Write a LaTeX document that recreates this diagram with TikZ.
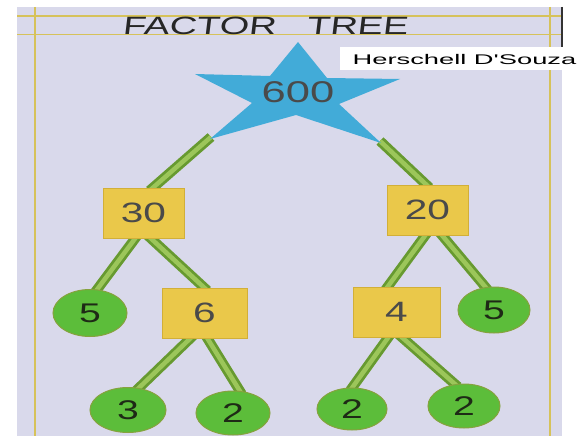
\documentclass[tikz,border=0pt]{standalone}
\usepackage{fontspec}
\usetikzlibrary{shapes.geometric,calc,backgrounds}
\newfontfamily\titlefont[FakeStretch=1.52,FakeSlant=0.12]{Liberation Sans}
\newfontfamily\credfont[FakeStretch=1.95]{Liberation Sans}
\newfontfamily\numfont[FakeStretch=1.45]{Liberation Sans}
\definecolor{paper}{HTML}{D9D9EB}
\definecolor{ruleyellow}{HTML}{D6C25A}
\definecolor{starblue}{HTML}{42ABD8}
\definecolor{boxyellow}{HTML}{EAC84A}
\definecolor{boxedge}{HTML}{D2AF38}
\definecolor{leafgreen}{HTML}{5CBD3A}
\definecolor{leafedge}{HTML}{86A23E}
\definecolor{stripedge}{HTML}{679A30}
\definecolor{stripfill}{HTML}{9CC65A}
\definecolor{numgray}{HTML}{4A4A4A}
\definecolor{numdark}{HTML}{1E2A16}
\pgfdeclarelayer{strips}
\pgfsetlayers{background,strips,main}
\begin{document}
\begin{tikzpicture}[x=1pt,y=-1pt,
  rulel/.style={draw=ruleyellow,line width=1.1pt},
  box/.style={rectangle,fill=boxyellow,draw=boxedge,line width=0.6pt,inner sep=0pt,
    font=\numfont\fontsize{28}{28}\selectfont,text=numgray},
  leaf/.style={ellipse,fill=leafgreen,draw=leafedge,line width=1pt,inner sep=0pt,
    font=\numfont\fontsize{27}{27}\selectfont,text=numdark},
  strip/.style={draw=stripedge,double=stripfill,line width=2.8pt,double distance=4.5pt}]
\useasboundingbox (0,0) rectangle (579,436);
\begin{pgfonlayer}{background}
\fill[white] (0,0) rectangle (579,436);
\fill[paper] (17,7) rectangle (562,436);
\draw[rulel] (17,16) -- (562,16);
\draw[rulel] (17,34.5) -- (562,34.5);
\draw[rulel] (35,7) -- (35,436);
\draw[rulel] (550,7) -- (550,436);
\draw[black!80,line width=1.5pt] (562,7) -- (562,47);
\end{pgfonlayer}
% title and credit
\node[font=\titlefont\fontsize{25}{25}\selectfont,text=black!85] (title) at (265,26) {FACTOR\hspace{20pt} TREE};
\node[fill=white,minimum width=239,minimum height=23,inner sep=0pt,anchor=north west] (credbox) at (340,47) {};
\node[font=\credfont\fontsize{14}{14}\selectfont,text=black] (cred) at (464.5,59.5) {Herschell D\symbol{39}Souza};
% star
\fill[starblue] (298,42) coordinate (st) -- (270,76) -- (195,74) coordinate (sl) -- (252,103)
  -- (210,139) coordinate (sbl) -- (296,115) -- (381,143) coordinate (sbr) -- (339,104)
  -- (400,79) coordinate (sr) -- (327,78) -- cycle;
\node[font=\numfont\fontsize{30}{30}\selectfont,text=numgray] (root) at (298,92) {600};
% boxes
\node[box,minimum width=81,minimum height=50] (b30) at (143.5,213) {30};
\node[box,minimum width=81,minimum height=50] (b20) at (427.5,210) {20};
\node[box,minimum width=85,minimum height=50] (b6) at (204.5,313) {6};
\node[box,minimum width=87,minimum height=50] (b4) at (396.5,312) {4};
% leaves
\node[leaf,minimum width=74,minimum height=47] (c5L) at (90,313) {5};
\node[leaf,minimum width=72,minimum height=46] (c5R) at (494,310) {5};
\node[leaf,minimum width=76,minimum height=45] (c3) at (128,410) {3};
\node[leaf,minimum width=74,minimum height=44] (c2a) at (233,413) {2};
\node[leaf,minimum width=70,minimum height=42] (c2b) at (352,409) {2};
\node[leaf,minimum width=72,minimum height=44] (c2c) at (464,406) {2};
% strips
\begin{pgfonlayer}{strips}
\draw[strip] ($(sbl)+(1,-2)$) -- ($(b30.north)+(6,3)$);
\draw[strip] ($(sbr)+(-1,-2)$) -- ($(b20.north)+(2,3)$);
\draw[strip] ($(b30.south)+(-6,-3)$) -- ($(c5L.78)+(0,3)$);
\draw[strip] ($(b30.south)+(4,-3)$) -- ($(b6.north)+(3,3)$);
\draw[strip] ($(b20.south)+(0,-3)$) -- ($(b4.north)+(-11,3)$);
\draw[strip] ($(b20.south)+(12,-3)$) -- ($(c5R.105)+(0,3)$);
\draw[strip] ($(b6.south)+(-11,-3)$) -- ($(c3.70)+(0,3)$);
\draw[strip] ($(b6.south)+(1,-3)$) -- ($(c2a.68)+(0,3)$);
\draw[strip] ($(b4.south)+(-6,-3)$) -- ($(c2b.95)+(0,3)$);
\draw[strip] ($(b4.south)+(2,-3)$) -- ($(c2c.105)+(0,3)$);
\end{pgfonlayer}
\end{tikzpicture}
\end{document}
